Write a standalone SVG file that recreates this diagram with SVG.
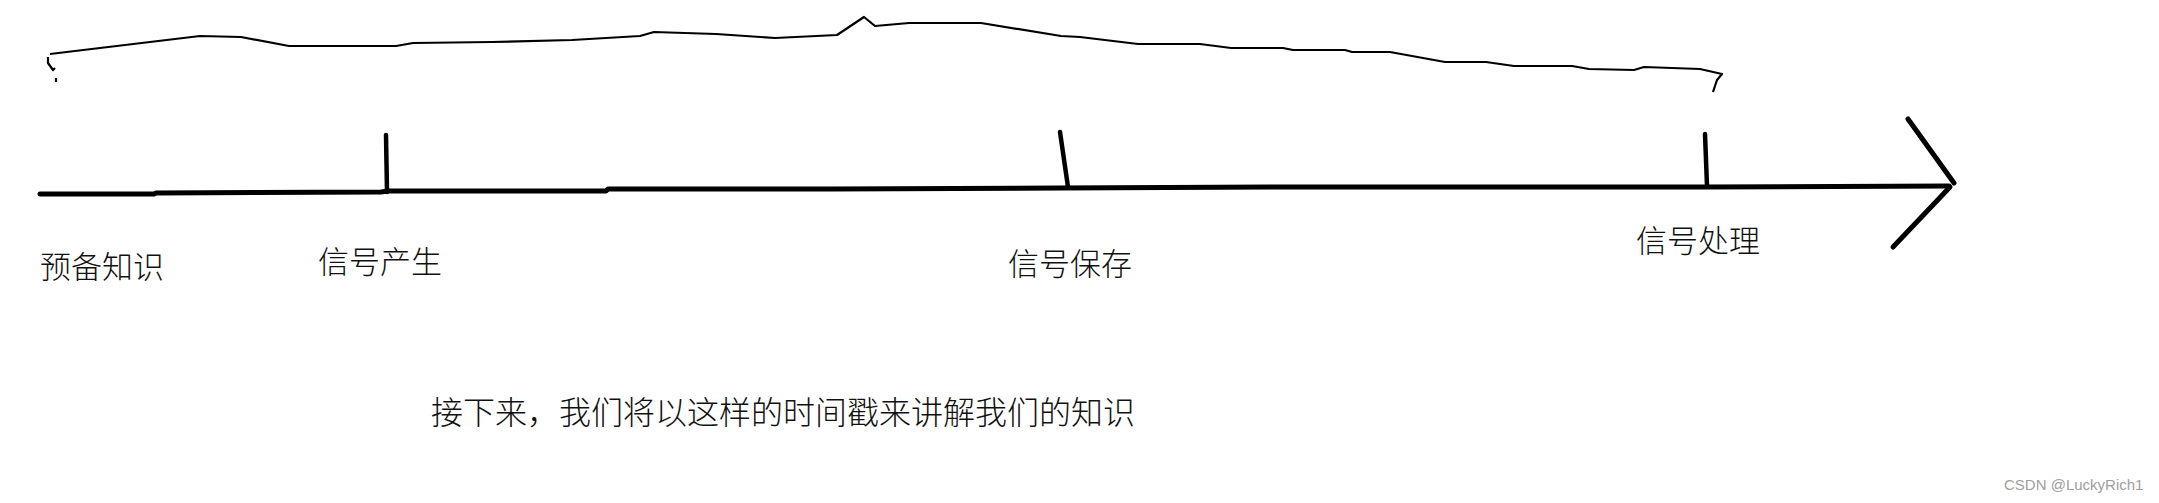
<svg xmlns="http://www.w3.org/2000/svg" width="2159" height="503" viewBox="0 0 2159 503">
<style>
.thick{fill:none;stroke:#000;stroke-width:5;stroke-linecap:round;stroke-linejoin:round}
.tick{fill:none;stroke:#000;stroke-width:4.5;stroke-linecap:round;stroke-linejoin:round}
.thin{fill:none;stroke:#000;stroke-width:2.2;stroke-linejoin:round}
.lbl{font-family:"Noto Sans CJK SC","Noto Sans CJK JP",sans-serif;font-size:31px;font-weight:300;fill:#111}
.note{font-family:"Noto Sans CJK SC","Noto Sans CJK JP",sans-serif;font-size:32px;font-weight:300;fill:#111}
.wm{font-family:"Liberation Sans",Arial,sans-serif;font-size:15px;fill:#a0a0a0}
</style>
<rect width="2159" height="503" fill="#fff"/>
<g id="brace">
<path class="thin" d="M50,54 L200,36 L241,37 L289,46 L396,46 L413,43 L492,42 L572,40 L640,36 L654,32 L716,34 L775,38 L837,35 L864,17 L875,26 L909,23 L981,23 L1061,36 L1080,37 L1138,44 L1200,44 L1231,48 L1283,48 L1293,50 L1345,50 L1352,52 L1390,52 L1445,62 L1486,62 L1514,66 L1572,66 L1589,69 L1634,70 L1644,67 L1700,69 L1722,74 L1717,80 L1713,92"/>
<path class="thin" d="M48,57 L48,63 L53,70 L55,68 M56,78 L56,82"/>
</g>
<g id="connectors">
<path class="thick" d="M40,194 L154,194 L156,193 L381,192 L388,191 L606,191 L608,189 L832,189 L1060,188 L1285,187 L1511,187 L1706,187 L1949,186"/>
<path class="thick" d="M1908,119 L1954,183"/>
<path class="thick" d="M1950,187 L1893,247"/>
</g>
<g id="tick-produce"><path class="tick" d="M386,135 L387,192"/></g>
<g id="tick-save"><path class="tick" d="M1060,132 L1068,187"/></g>
<g id="tick-handle"><path class="tick" d="M1705,134 L1707,186"/></g>
<g id="label-prep"><text class="lbl" x="40" y="278">预备知识</text></g>
<g id="label-produce"><text class="lbl" x="318" y="273">信号产生</text></g>
<g id="label-save"><text class="lbl" x="1008" y="275">信号保存</text></g>
<g id="label-handle"><text class="lbl" x="1636" y="252">信号处理</text></g>
<g id="note"><text class="note" x="431" y="424">接下来，我们将以这样的时间戳来讲解我们的知识</text></g>
<g id="watermark"><text class="wm" x="2004" y="490">CSDN @LuckyRich1</text></g>
</svg>
